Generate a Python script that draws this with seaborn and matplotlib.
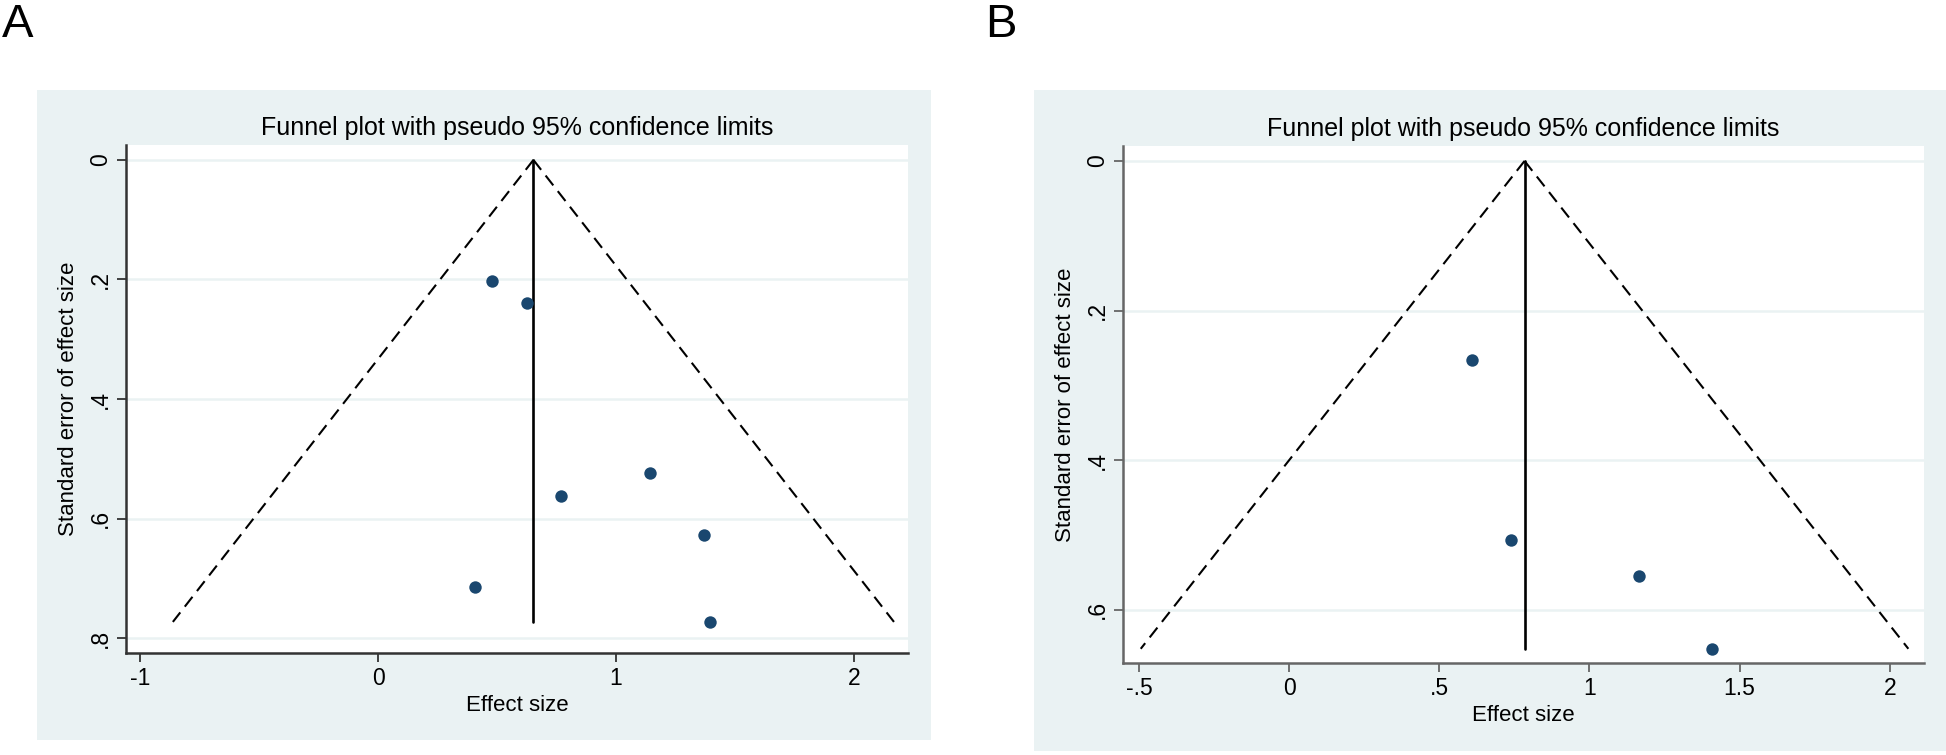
import numpy as np
import pandas as pd
import matplotlib
matplotlib.use("Agg")
import matplotlib.pyplot as plt
from matplotlib.patches import Rectangle
import seaborn as sns

# ---- data ----
a_effect = [0.48, 0.624, 0.768, 1.143, 1.368, 0.409, 1.394]
a_se = [0.203, 0.240, 0.563, 0.523, 0.627, 0.714, 0.773]
a_pooled = 0.653

b_effect = [0.608, 0.739, 1.164, 1.407]
b_se = [0.266, 0.507, 0.555, 0.652]
b_pooled = 0.784

a_xticks = [-1, 0, 1, 2]
a_xticklabels = ["-1", "0", "1", "2"]
a_yticks = [0, 0.2, 0.4, 0.6, 0.8]
a_yticklabels = ["0", ".2", ".4", ".6", ".8"]

b_xticks = [-0.5, 0, 0.5, 1, 1.5, 2]
b_xticklabels = ["-.5", "0", ".5", "1", "1.5", "2"]
b_yticks = [0, 0.2, 0.4, 0.6]
b_yticklabels = ["0", ".2", ".4", ".6"]

title = "Funnel plot with pseudo 95% confidence limits"
xlab = "Effect size"
ylab = "Standard error of effect size"

sns.set_theme(style="white")
plt.rcParams["font.family"] = ["Liberation Sans", "DejaVu Sans"]

W, H = 1946, 755
fig = plt.figure(figsize=(W / 100, H / 100), dpi=100)
fig.patch.set_facecolor("white")

BG = "#EAF2F3"
NAVY = "#1A476F"


def frect(x0, y0, x1, y1):
    return [x0 / W, 1 - y1 / H, (x1 - x0) / W, (y1 - y0) / H]


# grey graph regions
for (x0, y0, x1, y1) in [(37, 90, 931, 740), (1034, 90, 1946, 751)]:
    fig.patches.append(Rectangle((x0 / W, 1 - y1 / H), (x1 - x0) / W, (y1 - y0) / H,
                                 transform=fig.transFigure, facecolor=BG,
                                 edgecolor="none", zorder=-5))


def panel(rect, eff, se, pooled, xlim, ylim, xt, xtl, yt, ytl, spine_col):
    ax = fig.add_axes(rect)
    ax.set_zorder(2)
    ax.set_facecolor("white")
    df = pd.DataFrame({"effect": eff, "se": se})
    maxse = max(se)
    s = np.array([0.0, maxse])
    ax.plot(pooled - 1.96 * s, s, color="black", lw=1.5, ls=(0, (6, 3.5)), zorder=3)
    ax.plot(pooled + 1.96 * s, s, color="black", lw=1.5, ls=(0, (6, 3.5)), zorder=3)
    ax.plot([pooled, pooled], [0, maxse], color="black", lw=1.9, zorder=3)
    sns.scatterplot(data=df, x="effect", y="se", ax=ax, color=NAVY, s=80,
                    edgecolor=NAVY, linewidth=0, zorder=4)
    ax.set_xlim(*xlim)
    ax.set_ylim(*ylim)
    ax.set_xticks(xt)
    ax.set_xticklabels(xtl)
    ax.set_yticks(yt)
    ax.set_yticklabels(ytl, rotation=90, va="center")
    ax.grid(axis="y", color=BG, lw=1.8, zorder=1)
    ax.grid(axis="x", visible=False)
    ax.set_axisbelow(True)
    for sp in ["top", "right"]:
        ax.spines[sp].set_visible(False)
    for sp in ["left", "bottom"]:
        ax.spines[sp].set_color(spine_col)
        ax.spines[sp].set_linewidth(1.8)
    ax.tick_params(axis="both", which="major", direction="out", length=6.5,
                   width=1.3, color=spine_col, labelsize=16.5, labelcolor="black",
                   left=True, bottom=True)
    ax.set_xlabel(xlab, fontsize=16, labelpad=4, color="black")
    ax.set_ylabel(ylab, fontsize=16, labelpad=7, color="black")
    ax.set_title(title, fontsize=18, pad=7, color="black")
    return ax


panel(frect(126, 145, 908, 653), a_effect, a_se, a_pooled,
      (-1.059, 2.227), (0.825, -0.025), a_xticks, a_xticklabels,
      a_yticks, a_yticklabels, "#333333")
panel(frect(1123, 146, 1924, 663), b_effect, b_se, b_pooled,
      (-0.553, 2.114), (0.671, -0.020), b_xticks, b_xticklabels,
      b_yticks, b_yticklabels, "#666666")

fig.text(2 / W, 1 - 3 / H, "A", fontsize=34, ha="left", va="top", color="black")
fig.text(985 / W, 1 - 3 / H, "B", fontsize=34, ha="left", va="top", color="black")

fig.savefig("out.png", dpi=100, facecolor="white")
